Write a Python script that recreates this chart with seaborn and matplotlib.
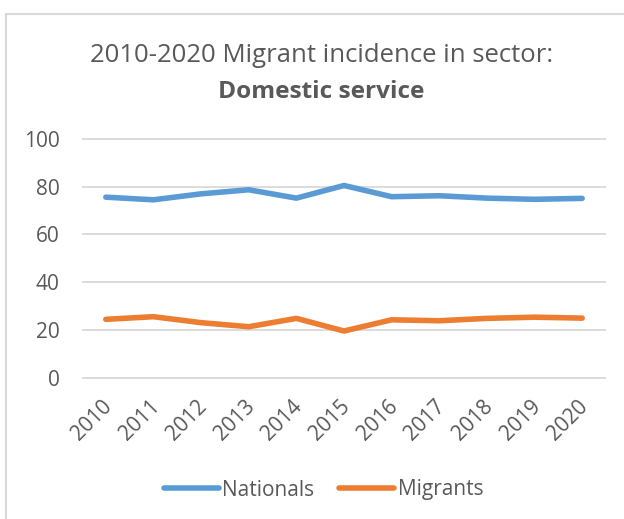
import matplotlib
matplotlib.use("Agg")
import matplotlib.pyplot as plt
from matplotlib.lines import Line2D
import seaborn as sns
import pandas as pd

years = ["2010", "2011", "2012", "2013", "2014", "2015", "2016", "2017", "2018", "2019", "2020"]
nationals = [75.6, 74.5, 77.0, 78.7, 75.2, 80.5, 75.8, 76.2, 75.2, 74.7, 75.1]
migrants = [24.4, 25.5, 23.0, 21.3, 24.8, 19.5, 24.2, 23.8, 24.8, 25.3, 24.9]
series_names = ["Nationals", "Migrants"]
yticks = [0, 20, 40, 60, 80, 100]

colors = {"Nationals": "#5B9BD5", "Migrants": "#ED7D31"}
text_color = "#595959"
font = ["Open Sans", "DejaVu Sans"]

df = pd.DataFrame({
    "year": years * 2,
    "value": nationals + migrants,
    "series": [series_names[0]] * len(years) + [series_names[1]] * len(years),
})

sns.set_style("white")
plt.rcParams["font.family"] = font

W, H = 624, 519
fig = plt.figure(figsize=(W / 100, H / 100), dpi=100)
left, right, top, bottom = 82, 606, 138, 378.5
ax = fig.add_axes([left / W, 1 - bottom / H, (right - left) / W, (bottom - top) / H])

sns.lineplot(data=df, x="year", y="value", hue="series", palette=colors,
             linewidth=4.0, ax=ax, legend=False, sort=False,
             solid_capstyle="round", solid_joinstyle="round")

ax.set_xlim(-0.5, len(years) - 0.5)
ax.set_ylim(-0.4, 100.4)
ax.set_yticks(yticks)
ax.yaxis.grid(True, color="#D9D9D9", linewidth=1.3)
ax.set_axisbelow(True)
for s in ax.spines.values():
    s.set_visible(False)
ax.set_xlabel("")
ax.set_ylabel("")
ax.tick_params(axis="both", length=0, colors=text_color, labelsize=15)
ax.tick_params(axis="y", pad=16)
ax.tick_params(axis="x", pad=18)
ax.set_xticks(range(len(years)))
ax.set_xticklabels(years, rotation=45, ha="right", va="center", rotation_mode="anchor")
for lbl in ax.get_xticklabels():
    lbl.set_transform(lbl.get_transform() + matplotlib.transforms.ScaledTranslation(3 / 100, 0, fig.dpi_scale_trans))

fig.text(0.515, 1 - 62 / H, "2010-2020 Migrant incidence in sector:", ha="center", va="baseline",
         fontsize=18.5, color=text_color)
fig.text(0.515, 1 - 98 / H, "Domestic service", ha="center", va="baseline",
         fontsize=17.6, fontweight="bold", color=text_color)

handles = [Line2D([0], [0], color=colors[n], linewidth=4.0, solid_capstyle="round") for n in series_names]
fig.legend(handles, series_names, loc="center", bbox_to_anchor=(323.5 / W, 1 - 490 / H),
           ncol=2, frameon=False, fontsize=15, labelcolor=text_color,
           handlelength=2.65, handletextpad=0.15, columnspacing=1.2)

# chart border
fig.add_artist(Line2D([6 / W, 6 / W], [0, 1 - 13.5 / H], color="#D9D9D9", linewidth=1.5,
                      transform=fig.transFigure))
fig.add_artist(Line2D([6 / W, 1], [1 - 13.5 / H, 1 - 13.5 / H], color="#D9D9D9", linewidth=1.5,
                      transform=fig.transFigure))

fig.savefig("out.png", dpi=100, facecolor="white")
